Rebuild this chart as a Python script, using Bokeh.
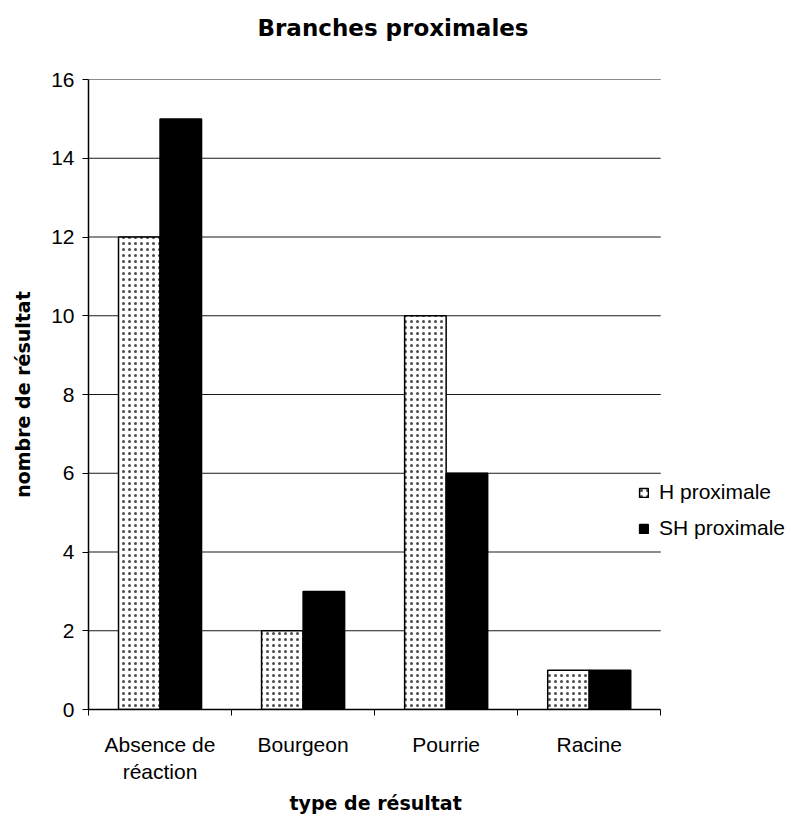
from bokeh.plotting import figure
from bokeh.models import FixedTicker, Legend, LegendItem, ColumnDataSource, Range1d, Title
from bokeh.transform import dodge
from bokeh.embed import file_html
from bokeh.resources import INLINE

categories = ["Absence de\nréaction", "Bourgeon", "Pourrie", "Racine"]
h_proximale = [12, 2, 10, 1]
sh_proximale = [15, 3, 6, 1]
series_names = ["H proximale", "SH proximale"]
y_ticks = [0, 2, 4, 6, 8, 10, 12, 14, 16]

n_cat = len(categories)
centers = [i + 0.5 for i in range(n_cat)]
bounds = list(range(n_cat + 1))
bar_w = 41.5 / 143
legend_room = 0.9  # extra x-space (in category units) for the legend

src = ColumnDataSource(dict(x=centers, h=h_proximale, sh=sh_proximale))
grid_src = ColumnDataSource(dict(y=y_ticks[1:], x0=[0] * (len(y_ticks) - 1),
                                 x1=[n_cat] * (len(y_ticks) - 1)))

FONT = "Liberation Sans"
BOLD_FONT = "DejaVu Sans"

p = figure(frame_width=round(143 * (n_cat + legend_room)), frame_height=630,
           min_border_left=88, min_border_top=79, min_border_bottom=100, min_border_right=0,
           x_range=Range1d(0, n_cat + legend_room), y_range=Range1d(0, 16),
           output_backend="svg", toolbar_location=None)

# horizontal gridlines limited to the category area
p.segment(x0="x0", x1="x1", y0="y", y1="y", source=grid_src, line_color="black",
          line_width=1, line_alpha=0.9)

r1 = p.vbar(x=dodge("x", -bar_w / 2, range=p.x_range), top="h", width=bar_w, source=src,
            fill_color="white", line_color="black", line_width=1.5,
            hatch_pattern="dot", hatch_color="black", hatch_scale=6, hatch_weight=0.5,
            hatch_alpha=0.7)
r2 = p.vbar(x=dodge("x", bar_w / 2, range=p.x_range), top="sh", width=bar_w, source=src,
            fill_color="black", line_color="black", line_width=1.5)

p.title.text = "Branches proximales"
p.title.align = "left"
p.title.offset = 169
p.title.text_font = BOLD_FONT
p.title.text_font_style = "bold"
p.title.text_font_size = "23px"
p.title.text_color = "black"
p.title.vertical_align = "top"
p.title.standoff = 0
p.title.padding = 0

# blank spacer between the frame and the title
p.add_layout(Title(text=" ", text_font_size="2px", standoff=33), "above")

p.outline_line_color = None
p.xgrid.grid_line_color = None
p.ygrid.grid_line_color = None

p.yaxis.ticker = FixedTicker(ticks=y_ticks)
p.yaxis.minor_tick_line_color = None
p.yaxis.major_tick_in = 0
p.yaxis.major_tick_out = 6
p.yaxis.axis_line_color = "black"
p.yaxis.axis_line_width = 1.5
p.yaxis.major_label_standoff = 8
p.yaxis.major_label_text_font = FONT
p.yaxis.major_label_text_font_size = "21px"
p.yaxis.major_label_text_color = "black"
p.yaxis.axis_label = "nombre de résultat"
p.yaxis.axis_label_text_font = BOLD_FONT
p.yaxis.axis_label_text_font_style = "bold"
p.yaxis.axis_label_text_font_size = "19px"
p.yaxis.axis_label_text_color = "black"
p.yaxis.axis_label_standoff = 14

p.xaxis.ticker = FixedTicker(ticks=centers, minor_ticks=bounds)
p.xaxis.bounds = (0, n_cat)
p.xaxis.major_label_overrides = {c: lab for c, lab in zip(centers, categories)}
p.xaxis.major_tick_in = 0
p.xaxis.major_tick_out = 0
p.xaxis.minor_tick_in = 0
p.xaxis.minor_tick_out = 6
p.xaxis.minor_tick_line_color = "black"
p.xaxis.axis_line_color = "black"
p.xaxis.axis_line_width = 1.5
p.xaxis.major_label_standoff = 17
p.xaxis.major_label_text_font = FONT
p.xaxis.major_label_text_font_size = "21px"
p.xaxis.major_label_text_color = "black"

p.add_layout(Title(text="type de résultat", align="left", offset=201, standoff=6,
                   text_font=BOLD_FONT, text_font_style="bold", text_font_size="19px",
                   text_color="black"), "below")

legend = Legend(items=[LegendItem(label=series_names[0], renderers=[r1]),
                       LegendItem(label=series_names[1], renderers=[r2])],
                location=(550, 169), orientation="vertical",
                label_text_font=FONT, label_text_font_size="21px", label_text_color="black",
                glyph_width=11, glyph_height=11, label_standoff=10,
                label_height=24, spacing=12, padding=0, margin=0,
                border_line_color=None, background_fill_alpha=0)
p.add_layout(legend, "center")

open("out.html", "w").write(file_html(p, INLINE))
